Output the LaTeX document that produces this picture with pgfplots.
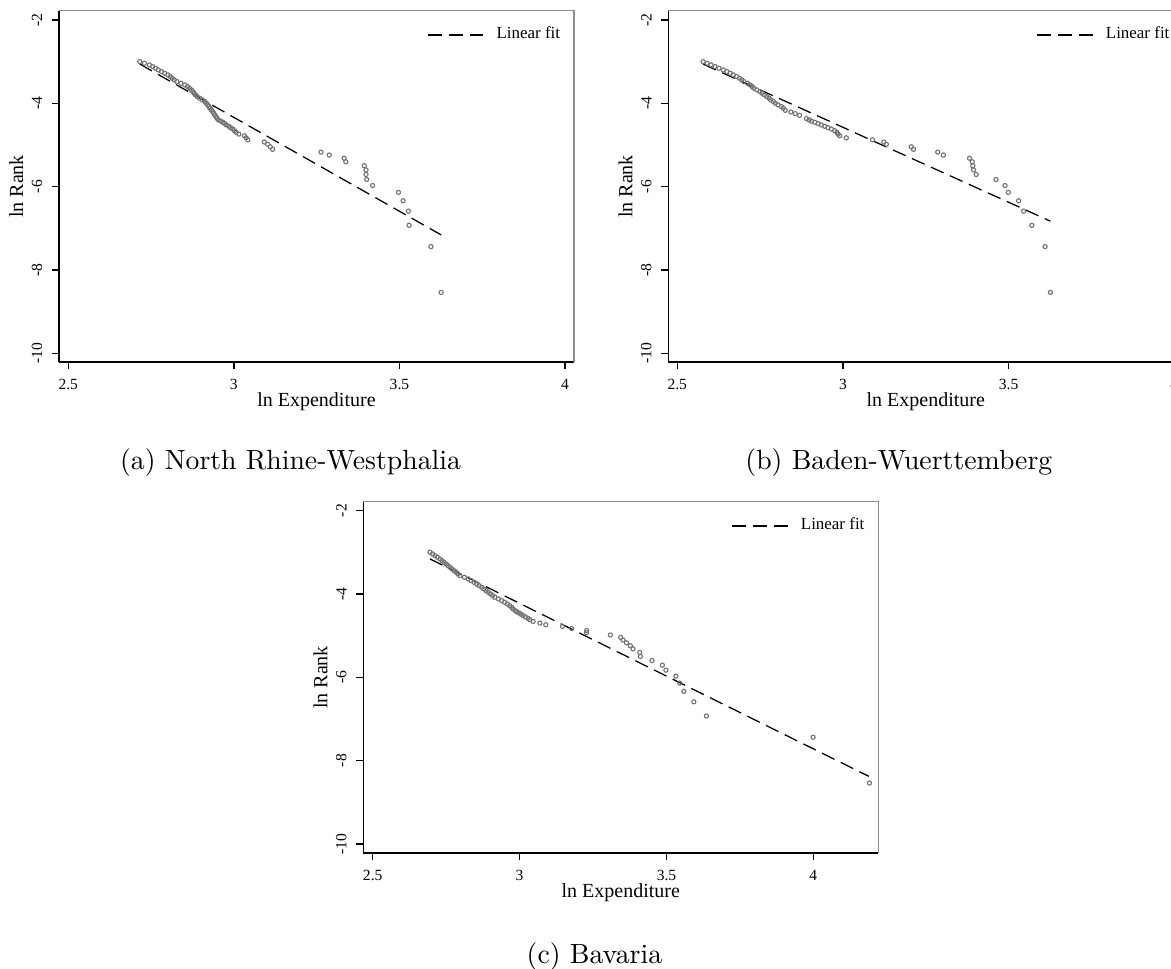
\documentclass[border=0pt]{standalone}
\usepackage{fontspec}
\usepackage{pgfplots}
\pgfplotsset{compat=1.18}
\newfontfamily\statafont{Liberation Serif}

% one pixel of the reference = 0.36pt
\pgfplotsset{
  stata/.style={
    scale only axis, width=185.4pt, height=126.4pt, clip=false,
    axis x line*=bottom, axis y line*=left,
    axis line style={black, line width=0.55pt},
    tick align=outside, major tick length=2.5pt,
    tick style={black, line width=0.5pt},
    xtick={2.5,3,3.5,4}, xticklabels={2.5,3,3.5,4},
    ytick={-10,-8,-6,-4,-2}, yticklabels={-10,-8,-6,-4,-2},
    ticklabel style={font=\statafont\fontsize{5.6}{6}\selectfont},
    yticklabel style={rotate=90, anchor=south},
    xlabel={ln Expenditure}, ylabel={ln Rank},
    label style={font=\statafont\fontsize{7.2}{8}\selectfont},
    xlabel style={at={(axis description cs:0.5,-0.1254)}, anchor=base},
    ylabel style={at={(axis description cs:-0.0699,0.5)}, anchor=base},
    legend style={at={(axis description cs:1,1)}, anchor=north east, xshift=0.2pt, yshift=-1.6pt,
      draw=none, fill=none, font=\statafont\fontsize{6.1}{7}\selectfont},
    legend image code/.code={\draw[#1] (0pt,0pt) -- (20pt,0pt); \path (22.5pt,0pt);},
  },
  pts/.style={only marks, mark=o, mark size=0.75pt, mark options={draw=black!55, line width=0.4pt}, forget plot},
  fit/.style={black, line width=0.45pt, dash pattern=on 5pt off 2.5pt},
}
\newcommand{\frameTR}{\draw[black!45, line width=0.4pt] (rel axis cs:0,1) -- (rel axis cs:1,1) -- (rel axis cs:1,0);}

\pgfplotstableread{
x y
3.626 -8.54
3.595 -7.44
3.529 -6.93
3.527 -6.59
3.511 -6.34
3.497 -6.14
3.419 -5.975
3.401 -5.83
3.399 -5.71
3.399 -5.60
3.394 -5.50
3.338 -5.405
3.333 -5.32
3.288 -5.244
3.263 -5.173
3.117 -5.106
3.110 -5.044
3.102 -4.985
3.092 -4.93
3.042 -4.877
3.037 -4.83
3.032 -4.78
3.015 -4.74
3.007 -4.70
3.002 -4.66
2.997 -4.62
2.990 -4.587
2.985 -4.553
2.977 -4.52
2.972 -4.488
2.967 -4.458
2.960 -4.43
2.953 -4.40
2.949 -4.36
2.946 -4.32
2.942 -4.28
2.939 -4.24
2.936 -4.20
2.932 -4.16
2.928 -4.12
2.925 -4.08
2.921 -4.04
2.917 -4.00
2.912 -3.96
2.905 -3.92
2.897 -3.88
2.889 -3.84
2.884 -3.80
2.880 -3.76
2.876 -3.72
2.872 -3.68
2.866 -3.64
2.860 -3.60
2.852 -3.56
2.840 -3.52
2.828 -3.48
2.820 -3.44
2.814 -3.40
2.808 -3.36
2.801 -3.32
2.791 -3.28
2.781 -3.24
2.772 -3.20
2.763 -3.16
2.755 -3.12
2.745 -3.08
2.730 -3.04
2.716 -3.00
}\nrw

\pgfplotstableread{
x y
3.626 -8.54
3.610 -7.44
3.570 -6.93
3.545 -6.59
3.530 -6.34
3.499 -6.14
3.489 -5.975
3.462 -5.83
3.402 -5.71
3.394 -5.60
3.392 -5.50
3.390 -5.405
3.382 -5.32
3.303 -5.244
3.286 -5.173
3.213 -5.106
3.206 -5.044
3.131 -4.985
3.123 -4.93
3.089 -4.877
3.010 -4.83
2.990 -4.78
2.985 -4.74
2.982 -4.70
2.975 -4.66
2.965 -4.62
2.955 -4.587
2.945 -4.553
2.935 -4.52
2.925 -4.488
2.915 -4.458
2.905 -4.43
2.898 -4.40
2.890 -4.37
2.869 -4.29
2.856 -4.25
2.843 -4.21
2.826 -4.17
2.820 -4.12
2.814 -4.08
2.804 -4.04
2.796 -4.00
2.790 -3.96
2.782 -3.92
2.777 -3.88
2.770 -3.84
2.763 -3.80
2.756 -3.76
2.749 -3.72
2.740 -3.68
2.731 -3.64
2.726 -3.60
2.720 -3.56
2.712 -3.52
2.701 -3.48
2.694 -3.44
2.688 -3.40
2.679 -3.36
2.669 -3.32
2.660 -3.28
2.650 -3.24
2.639 -3.20
2.626 -3.16
2.614 -3.12
2.602 -3.08
2.590 -3.04
2.578 -3.00
}\bw

\pgfplotstableread{
x y
4.191 -8.54
3.999 -7.44
3.636 -6.93
3.593 -6.59
3.559 -6.34
3.545 -6.14
3.532 -5.975
3.498 -5.83
3.486 -5.71
3.451 -5.60
3.411 -5.50
3.409 -5.405
3.386 -5.32
3.377 -5.244
3.364 -5.173
3.352 -5.106
3.344 -5.044
3.309 -4.985
3.228 -4.93
3.228 -4.877
3.177 -4.83
3.146 -4.78
3.089 -4.74
3.069 -4.70
3.046 -4.66
3.035 -4.62
3.029 -4.587
3.020 -4.553
3.012 -4.52
3.005 -4.488
2.998 -4.458
2.991 -4.43
2.985 -4.40
2.978 -4.36
2.973 -4.32
2.966 -4.28
2.958 -4.24
2.949 -4.20
2.939 -4.16
2.928 -4.12
2.916 -4.08
2.908 -4.04
2.901 -4.00
2.893 -3.96
2.886 -3.92
2.878 -3.88
2.871 -3.84
2.862 -3.80
2.854 -3.76
2.845 -3.72
2.835 -3.68
2.825 -3.64
2.812 -3.60
2.797 -3.56
2.790 -3.52
2.784 -3.48
2.777 -3.44
2.770 -3.40
2.763 -3.36
2.756 -3.32
2.750 -3.28
2.743 -3.24
2.736 -3.20
2.729 -3.16
2.720 -3.12
2.712 -3.08
2.704 -3.04
2.695 -3.00
}\bav

\begin{document}
\begin{tikzpicture}
% (a) North Rhine-Westphalia
\begin{axis}[stata, at={(21.24pt,-130.32pt)}, anchor=south west,
  xmin=2.472, xmax=4.027, ymin=-10.21, ymax=-1.784]
  \addplot[pts] table {\nrw};
  \addplot[fit] coordinates {(2.716,-3.06) (3.626,-7.16)};
  \addlegendentry{Linear fit}
  \frameTR
\end{axis}
% (b) Baden-Wuerttemberg
\begin{axis}[stata, at={(240.59pt,-130.32pt)}, anchor=south west,
  xmin=2.473, xmax=4.027, ymin=-10.21, ymax=-1.784]
  \addplot[pts] table {\bw};
  \addplot[fit] coordinates {(2.578,-3.06) (3.626,-6.83)};
  \addlegendentry{Linear fit}
  \frameTR
\end{axis}
% (c) Bavaria
\begin{axis}[stata, at={(130.79pt,-307.08pt)}, anchor=south west,
  xmin=2.468, xmax=4.221, ymin=-10.22, ymax=-1.79]
  \addplot[pts] table {\bav};
  \addplot[fit] coordinates {(2.695,-3.16) (4.189,-8.38)};
  \addlegendentry{Linear fit}
  \frameTR
\end{axis}
\node[anchor=base, font=\fontsize{10}{12}\selectfont] at (104.6pt,-169.1pt) {(a) North Rhine-Westphalia};
\node[anchor=base, font=\fontsize{10}{12}\selectfont] at (323.6pt,-169.1pt) {(b) Baden-Wuerttemberg};
\node[anchor=base, font=\fontsize{10}{12}\selectfont] at (214pt,-347pt) {(c) Bavaria};
\pgfresetboundingbox
\path (0pt,0pt) rectangle (421.56pt,-348.84pt);
\end{tikzpicture}
\end{document}
